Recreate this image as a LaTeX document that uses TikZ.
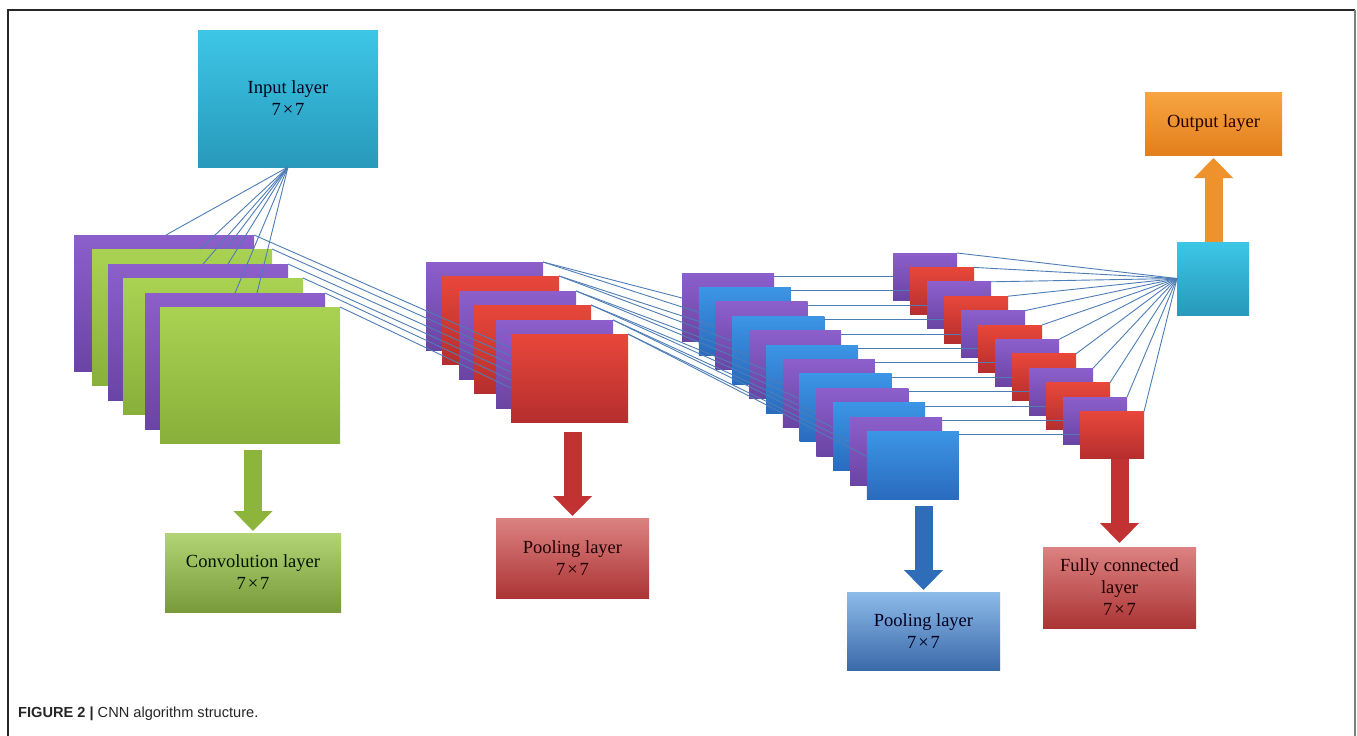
\documentclass[tikz,border=0pt]{standalone}
\usepackage{fontspec}
\setmainfont{Liberation Serif}
\newfontfamily\capfont{Liberation Sans}
\usetikzlibrary{arrows.meta,calc}
\definecolor{puT}{HTML}{8C5FCB}
\definecolor{puB}{HTML}{6A44A4}
\definecolor{grT}{HTML}{AAD252}
\definecolor{grB}{HTML}{88B03A}
\definecolor{rdT}{HTML}{E8473A}
\definecolor{rdB}{HTML}{B52E2E}
\definecolor{blT}{HTML}{3C95E6}
\definecolor{blB}{HTML}{2A6BBE}
\definecolor{cyT}{HTML}{3DC6E6}
\definecolor{cyB}{HTML}{2899BA}
\definecolor{orT}{HTML}{F7A542}
\definecolor{orB}{HTML}{E37E1C}
\definecolor{lgT}{HTML}{B2D474}
\definecolor{lgB}{HTML}{789A3A}
\definecolor{lrT}{HTML}{DC8282}
\definecolor{lrB}{HTML}{AC3434}
\definecolor{lbT}{HTML}{8DBBEA}
\definecolor{lbB}{HTML}{3A69A8}
\definecolor{lnc}{HTML}{4E7DB6}
\definecolor{gArr}{HTML}{8DB53C}
\definecolor{rArr}{HTML}{C23232}
\definecolor{bArr}{HTML}{2F6DB9}
\definecolor{oArr}{HTML}{F0922C}
\begin{document}
\begin{tikzpicture}[x=1pt,y=-1pt,
  lay/.style={inner sep=0pt, outer sep=0pt, anchor=north west, draw=none},
  cl/.style={lay, minimum width=180pt, minimum height=136pt},
  pl/.style={lay, minimum width=117pt, minimum height=88pt},
  ql/.style={lay, minimum width=92pt, minimum height=68pt},
  fl/.style={lay, minimum width=64pt, minimum height=47pt},
  purp/.style={top color=puT, bottom color=puB},
  grn/.style={top color=grT, bottom color=grB},
  redl/.style={top color=rdT, bottom color=rdB},
  blu/.style={top color=blT, bottom color=blB},
  lbl/.style={lay, align=center, font=\fontsize{18.5}{22}\selectfont},
  conn/.style={draw=lnc, line width=0.9pt},
  fat/.style={line width=18pt, -{Triangle[width=38pt,length=20pt]}, shorten <=7pt, shorten >=2pt}
]
\useasboundingbox (0,0) rectangle (1357,736);
\fill[white] (0,0) rectangle (1357,736);
% frame
\draw[black!85, line width=1.2pt] (8,736) -- (8,10) -- (1355,10);
\draw[gray, line width=1.5pt] (1355,10) -- (1355,736);

% input
\node[lbl, minimum width=180pt, minimum height=137pt, top color=cyT, bottom color=cyB, text=black!90!blue] (in) at (198,30) {Input layer\\7\kern2pt×\kern2pt7};

% convolution stack
\node[cl,purp] (c0) at (74,235) {};
\node[cl,grn]  (c1) at (92,249) {};
\node[cl,purp] (c2) at (108,264) {};
\node[cl,grn]  (c3) at (123,278) {};
\node[cl,purp] (c4) at (145,293) {};
\node[cl,grn]  (c5) at (160,307) {};

% pooling stack 1
\node[pl,purp] (p0) at (426,262) {};
\node[pl,redl] (p1) at (442,276) {};
\node[pl,purp] (p2) at (459,291) {};
\node[pl,redl] (p3) at (474,305) {};
\node[pl,purp] (p4) at (496,320) {};
\node[pl,redl] (p5) at (511,334) {};

% pooling stack 2
\foreach \i in {0,...,11}{
  \ifodd\i \def\tc{blT}\def\bc{blB}\else\def\tc{puT}\def\bc{puB}\fi
  \node[ql, top color=\tc, bottom color=\bc] (q\i) at ({682+16.8*\i},{273+14.4*\i}) {};
}

% fully connected stack
\foreach \i in {0,...,11}{
  \ifodd\i \def\tc{rdT}\def\bc{rdB}\else\def\tc{puT}\def\bc{puB}\fi
  \node[fl, top color=\tc, bottom color=\bc] (f\i) at ({893+17*\i},{253+14.4*\i}) {};
}

% output side
\node[lay, minimum width=72pt, minimum height=73pt, top color=cyT, bottom color=cyB] (cy) at (1177,242) {};
\node[lbl, minimum width=137pt, minimum height=63pt, top color=orT, bottom color=orB, text=black!85!red] (out) at (1145,92) {Output layer};

% label boxes
\node[lbl, minimum width=176pt, minimum height=79pt, top color=lgT, bottom color=lgB, text=black!92!green] (lc) at (165,533) {Convolution layer\\7\kern2pt×\kern2pt7};
\node[lbl, minimum width=153pt, minimum height=80pt, top color=lrT, bottom color=lrB, text=black!88!red] (lp) at (496,518) {Pooling layer\\7\kern2pt×\kern2pt7};
\node[lbl, minimum width=153pt, minimum height=78pt, top color=lbT, bottom color=lbB, text=black!88!blue] (lq) at (847,592) {Pooling layer\\7\kern2pt×\kern2pt7};
\node[lbl, minimum width=153pt, minimum height=81pt, top color=lrT, bottom color=lrB, text=black!88!red] (lf) at (1043,547) {Fully connected\\layer\\7\kern2pt×\kern2pt7};

% connectors: input -> convolution
\foreach \n/\dx in {c0/92,c1/108,c1/134,c2/95,c2/120,c4/90,c4/112}
  \draw[conn] (in.south) -- ($(\n.north west)+(\dx,0)$);

% convolution -> pooling 1
\foreach \j in {0,...,5}
  \draw[conn] (c\j.north east) -- ($(p5.north west)+(0,{14+8*\j})$);

% pooling 1 -> pooling 2
\foreach \j in {0,...,5}{
  \pgfmathtruncatemacro\ka{2*\j}
  \pgfmathtruncatemacro\kb{2*\j+1}
  \draw[conn] (p\j.north east) -- ($(q\ka.north west)+(0,25)$);
  \draw[conn] (p\j.north east) -- ($(q\kb.north west)+(0,25)$);
}

% pooling 2 -> fully connected
\foreach \i in {0,...,11}
  \draw[conn] (f\i.west -| q\i.east) -- (f\i.west);

% fully connected -> output square
\foreach \i in {0,...,11}
  \draw[conn] (f\i.north east) -- (cy.west);

% block arrows
\draw[fat, draw=gArr, fill=gArr] (lc.north |- c5.south) -- (lc.north);
\draw[fat, draw=rArr, fill=rArr, shorten <=10pt] (lp.north |- p5.south) -- (lp.north);
\draw[fat, draw=bArr, fill=bArr] (lq.north |- q11.south) -- (lq.north);
\draw[fat, draw=rArr, fill=rArr, shorten <=1pt, shorten >=4pt] (lf.north |- f11.south) -- (lf.north);
\draw[fat, draw=oArr, fill=oArr, shorten <=0pt, shorten >=3pt] (out.south |- cy.north) -- (out.south);

% caption
\node[anchor=base west, inner sep=0pt, text=black!85, font=\capfont\fontsize{14.6}{16}\selectfont] (cap) at (18,717) {\textbf{FIGURE 2 |} CNN algorithm structure.};
\end{tikzpicture}
\end{document}
